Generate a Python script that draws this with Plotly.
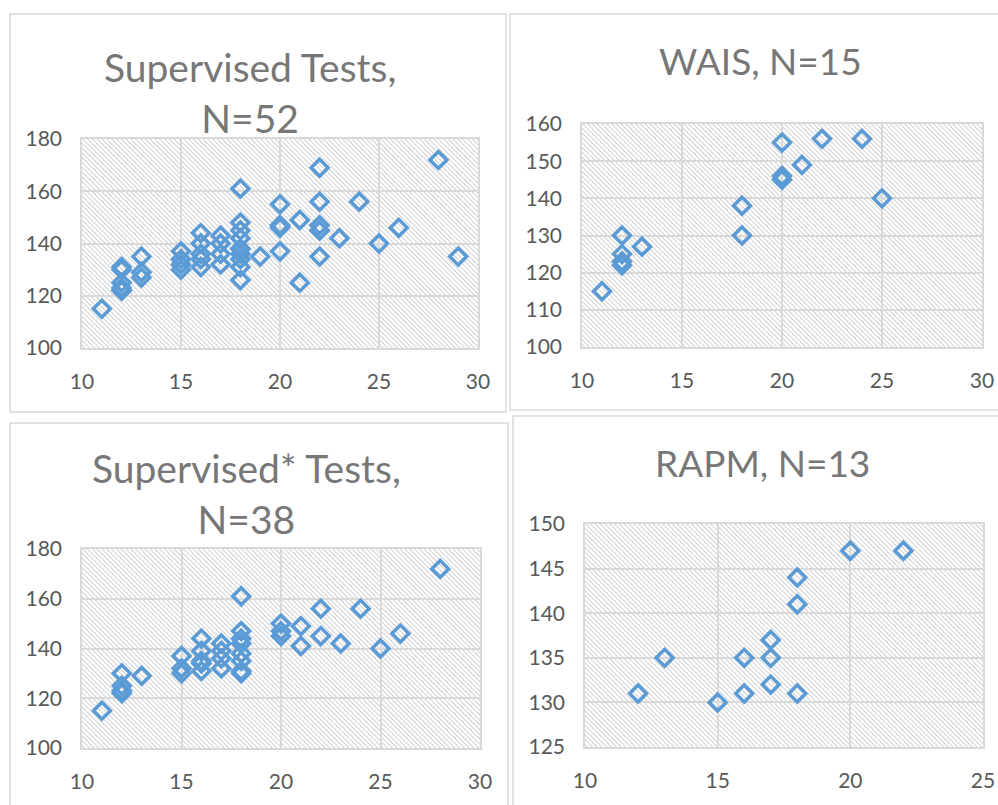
import base64
import plotly.graph_objects as go

W, H = 998, 805

# ---------------- data ----------------
sup_x = [11, 12, 12, 12, 12, 12, 12, 13, 13, 13, 15, 15, 15, 15,
         16, 16, 16, 16, 16, 17, 17, 17, 17, 18, 18, 18, 18, 18, 18, 18, 18, 18, 18,
         19, 20, 20, 20, 20, 20, 21, 21, 22, 22, 22, 22, 22, 22, 23, 24, 25, 26, 28, 29]
sup_y = [115, 131, 130, 125, 123, 122, 122, 135, 129, 127, 137, 134, 132, 130,
         144, 140, 136, 134, 131, 143, 140, 136, 132, 161, 148, 145, 142, 138, 138, 136, 134, 131, 126,
         135, 155, 147, 147, 146, 137, 149, 125, 169, 156, 147, 145, 145, 135, 142, 156, 140, 146, 172, 135]

wais_x = [11, 12, 12, 12, 12, 13, 18, 18, 20, 20, 20, 21, 22, 24, 25]
wais_y = [115, 130, 125, 123, 122, 127, 138, 130, 155, 146, 145, 149, 156, 156, 140]

sup2_x = [11, 12, 12, 12, 12, 13, 15, 15, 15, 16, 16, 16, 16, 16,
          17, 17, 17, 17, 18, 18, 18, 18, 18, 18, 18, 18,
          20, 20, 20, 21, 21, 22, 22, 23, 24, 25, 26, 28]
sup2_y = [115, 130, 125, 123, 122, 129, 137, 132, 130, 144, 139, 135, 134, 131,
          142, 139, 136, 132, 161, 147, 144, 142, 138, 135, 131, 130,
          150, 147, 145, 149, 141, 156, 145, 142, 156, 140, 146, 172]

rapm_x = [12, 13, 15, 16, 16, 17, 17, 17, 18, 18, 18, 20, 22]
rapm_y = [131, 135, 130, 135, 131, 137, 135, 132, 144, 141, 131, 147, 147]

titles = ["Supervised Tests,<br>N=52", "WAIS, N=15",
          "Supervised* Tests,<br>N=38", "RAPM, N=13"]
x_ranges = [[10, 30], [10, 30], [10, 30], [10, 25]]
y_ranges = [[100, 180], [100, 160], [100, 180], [125, 150]]
y_dticks = [20, 10, 20, 5]

# ---------------- layout geometry (pixels) ----------------
plot_boxes = [  # left, right, top, bottom
    (82, 478, 139, 348),
    (582, 982, 124, 347),
    (82, 480, 549, 748),
    (585, 983, 524, 747),
]
panel_boxes = [
    (10, 506, 14, 412),
    (510, 1010, 14, 410),
    (10, 508, 423, 812),
    (513, 1010, 416, 812),
]
title_pos = [(250, 92), (760, 60), (246, 493), (762, 462)]
title_sizes = [39, 37, 39, 37]

BLUE = "#5b9bd5"
GRID = "#d9d9d9"
TICK = "#595959"
TITLE = "#777777"
FONT = "Lato, 'Open Sans', sans-serif"


def hatch_uri(w, h):
    svg = (
        f'<svg xmlns="http://www.w3.org/2000/svg" width="{w}" height="{h}" '
        f'viewBox="0 0 {w} {h}" preserveAspectRatio="none">'
        '<defs><pattern id="p" width="3.4" height="3.4" patternUnits="userSpaceOnUse" '
        'patternTransform="rotate(-45)">'
        '<line x1="0.5" y1="0" x2="0.5" y2="3.4" stroke="#cfcfcf" stroke-width="1"/>'
        '</pattern></defs>'
        f'<rect width="{w}" height="{h}" fill="white"/>'
        f'<rect width="{w}" height="{h}" fill="url(#p)"/></svg>'
    )
    return "data:image/svg+xml;base64," + base64.b64encode(svg.encode()).decode()


fig = go.Figure()
series = [(sup_x, sup_y), (wais_x, wais_y), (sup2_x, sup2_y), (rapm_x, rapm_y)]

images, shapes, annotations = [], [], []
for i, (xs, ys) in enumerate(series):
    n = "" if i == 0 else str(i + 1)
    fig.add_trace(go.Scatter(
        x=xs, y=ys, mode="markers", xaxis="x" + n, yaxis="y" + n,
        marker=dict(symbol="diamond-open", size=13, color=BLUE,
                    line=dict(color=BLUE, width=3.5)),
        showlegend=False, hoverinfo="x+y", cliponaxis=False,
    ))
    l, r, t, b = plot_boxes[i]
    ax_common = dict(showgrid=True, gridcolor=GRID, gridwidth=1.5,
                     showline=True, linecolor=GRID, linewidth=1.5, mirror=True,
                     zeroline=False, ticks="", automargin=False,
                     tickfont=dict(family=FONT, size=21, color=TICK))
    fig.update_layout(**{
        "xaxis" + n: dict(domain=[l / W, r / W], range=x_ranges[i], dtick=5,
                          anchor="y" + n, ticklabelstandoff=14, **ax_common),
        "yaxis" + n: dict(domain=[1 - b / H, 1 - t / H], range=y_ranges[i],
                          dtick=y_dticks[i], anchor="x" + n,
                          ticklabelstandoff=14, **ax_common),
    })
    images.append(dict(
        source=hatch_uri(r - l, b - t), xref=("x" + n) + " domain",
        yref=("y" + n) + " domain", x=0, y=1, sizex=1, sizey=1,
        xanchor="left", yanchor="top", sizing="stretch", layer="below"))
    pl, pr, pt, pb = panel_boxes[i]
    shapes.append(dict(type="rect", xref="paper", yref="paper",
                       x0=pl / W, x1=pr / W, y0=1 - pb / H, y1=1 - pt / H,
                       line=dict(color=GRID, width=1.5)))
    tx, ty = title_pos[i]
    annotations.append(dict(text=titles[i], xref="paper", yref="paper",
                            x=tx / W, y=1 - ty / H, xanchor="center", yanchor="middle",
                            showarrow=False,
                            font=dict(family=FONT, size=title_sizes[i], color=TITLE)))

fig.update_layout(
    width=W, height=H, autosize=False,
    margin=dict(l=0, r=0, t=0, b=0, autoexpand=False),
    paper_bgcolor="white", plot_bgcolor="white",
    images=images, shapes=shapes, annotations=annotations,
)

fig.write_html("out.html", config={"displayModeBar": False},
               post_script="document.body.style.margin='0';document.body.style.overflow='hidden';")
